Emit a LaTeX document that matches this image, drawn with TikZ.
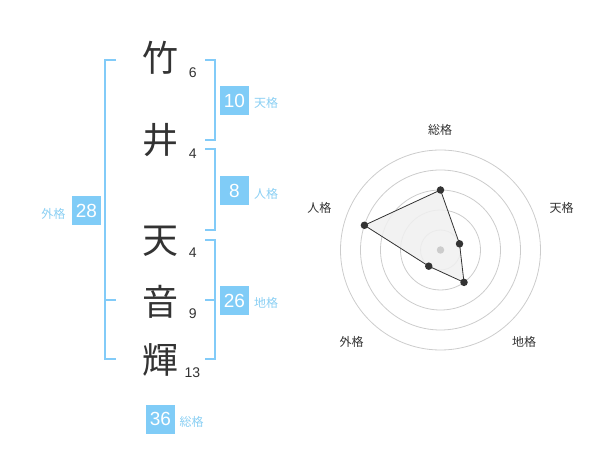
\documentclass[tikz,border=0pt]{standalone}
\usepackage{fontspec}
\usetikzlibrary{calc}
\setmainfont{Liberation Sans}
\newfontfamily\cjk{Noto Sans CJK JP}
\definecolor{boxblue}{HTML}{80CCF7}
\definecolor{lblblue}{HTML}{8ACFF3}
\definecolor{brk}{HTML}{82CBF8}
\definecolor{ink}{HTML}{333333}
\definecolor{ring}{HTML}{CCCCCC}
\definecolor{fillg}{HTML}{F0F0F0}
\begin{document}
\begin{tikzpicture}[x=1pt,y=-1pt,
  kanji/.style={font=\cjk\fontsize{36}{36}\selectfont, text=ink, inner sep=0pt},
  strokes/.style={font=\fontsize{14}{14}\selectfont, text=ink, inner sep=0pt},
  numbox/.style={fill=boxblue, text=white, minimum width=29pt, minimum height=29pt, inner sep=0pt, font=\fontsize{19}{19}\selectfont},
  kaku/.style={font=\cjk\fontsize{12}{12}\selectfont, text=lblblue, inner sep=0pt},
  bracket/.style={draw=brk, line width=2pt},
  ringline/.style={draw=ring, line width=0.8pt},
  radlbl/.style={font=\cjk\fontsize{12}{12}\selectfont, text=ink, inner sep=0pt},
  dot/.style={circle, fill=ink, inner sep=0pt, minimum size=7.5pt}]
\useasboundingbox (0,0) rectangle (600,470);
% kanji
\node[kanji] (k1) at (160,58) {竹};
\node[kanji] (k2) at (160,140.5) {井};
\node[kanji] (k3) at (160,241.5) {天};
\node[kanji] (k4) at (160,301.5) {音};
\node[kanji] (k5) at (160,360) {輝};
\node[strokes] (s1) at (192.7,72.7) {6};
\node[strokes] (s2) at (192.7,153.3) {4};
\node[strokes] (s3) at (192.7,252.7) {4};
\node[strokes] (s4) at (192.7,313.3) {9};
\node[strokes] (s5) at (192.5,372.7) {13};
% brackets
\coordinate (lt) at (116,60);
\coordinate (lb) at (116,359);
\coordinate (lm) at (116,300);
\draw[bracket] (lt) -| (105,359) -- (lb);
\draw[bracket] (105,300) -- (lm);
\coordinate (r1t) at (205,60);
\coordinate (r1b) at (205,140);
\draw[bracket] (r1t) -| (214.5,140) -- (r1b);
\coordinate (r2t) at (205,149.5);
\coordinate (r2b) at (205,230);
\draw[bracket] (r2t) -| (214.5,230) -- (r2b);
\coordinate (r3t) at (205,240);
\coordinate (r3b) at (205,359);
\coordinate (r3m) at (205,300);
\draw[bracket] (r3t) -| (214.5,359) -- (r3b);
\draw[bracket] (214.5,300) -- (r3m);
% boxes
\node[numbox] (ten) at (234.5,100.5) {10};
\node[kaku] (tenl) at (266,103) {天格};
\node[numbox] (jin) at (234.5,190.5) {8};
\node[kaku] (jinl) at (266,193.5) {人格};
\node[numbox] (gai) at (86.4,210.5) {28};
\node[kaku] (gail) at (53.3,213.5) {外格};
\node[numbox] (chi) at (234.5,300.5) {26};
\node[kaku] (chil) at (266,303) {地格};
\node[numbox] (sou) at (160.5,419) {36};
\node[kaku] (soul) at (191.7,422) {総格};
% radar
\coordinate (c) at (440.5,250);
\foreach \r in {20,40,60,80,100} \draw[ringline] (c) circle (\r);
\coordinate (p1) at ($(c)+(-90:60)$);
\coordinate (p2) at ($(c)+(-18:20)$);
\coordinate (p3) at ($(c)+(54:40)$);
\coordinate (p4) at ($(c)+(126:20)$);
\coordinate (p5) at ($(c)+(198:80)$);
\fill[fillg, fill opacity=0.85] (p1) -- (p2) -- (p3) -- (p4) -- (p5) -- cycle;
\draw[ink, line width=0.8pt] (p1) -- (p2) -- (p3) -- (p4) -- (p5) -- cycle;
\node[circle, fill=ring, inner sep=0pt, minimum size=7.5pt] (cd) at (c) {};
\foreach \i in {1,...,5} \node[dot] (d\i) at (p\i) {};
\node[radlbl] (l1) at (440,130) {総格};
\node[radlbl] (l2) at (561.7,208.3) {天格};
\node[radlbl] (l3) at (524,341.7) {地格};
\node[radlbl] (l4) at (351.7,341.7) {外格};
\node[radlbl] (l5) at (319.3,208.3) {人格};
\end{tikzpicture}
\end{document}
